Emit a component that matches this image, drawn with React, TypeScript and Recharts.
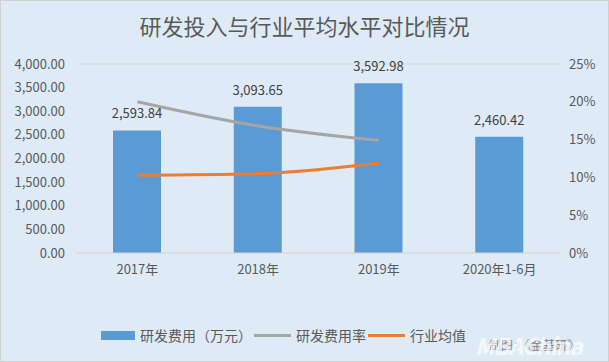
import {
  Bar,
  CartesianGrid,
  ComposedChart,
  LabelList,
  Line,
  XAxis,
  YAxis,
} from "recharts";

const categories = ["2017年", "2018年", "2019年", "2020年1-6月"];
const rdExpense = [2593.84, 3093.65, 3592.98, 2460.42]; // 万元
const rdRate = [20.0, 16.8, 14.9, null]; // %
const industryAvg = [10.3, 10.5, 11.9, null]; // %
const leftTicks = [0, 500, 1000, 1500, 2000, 2500, 3000, 3500, 4000];
const rightTicks = [0, 5, 10, 15, 20, 25];

const FONT = '"Noto Sans CJK SC", "Noto Sans", sans-serif';
const BLUE = "#5B9BD5";
const GRAY = "#A5A5A5";
const ORANGE = "#ED7D31";

const chartData = categories.map((name, i) => ({
  name,
  expense: rdExpense[i],
  rate: rdRate[i],
  avg: industryAvg[i],
}));

const fmtMoney = (v: number) =>
  v.toLocaleString("en-US", { minimumFractionDigits: 2, maximumFractionDigits: 2 });

const legendItems = [
  { label: "研发费用（万元）", color: BLUE, kind: "bar" },
  { label: "研发费用率", color: GRAY, kind: "line" },
  { label: "行业均值", color: ORANGE, kind: "line" },
];

const App = () => {
  return (
    <div
      style={{
        position: "absolute",
        left: 0,
        top: 0,
        width: 607,
        height: 360,
        background: "#DEEBF7",
        border: "1px solid #D0D0D0",
        fontFamily: FONT,
        overflow: "hidden",
      }}
    >
      <div
        style={{
          position: "absolute",
          top: 9,
          left: 0,
          width: 607,
          textAlign: "center",
          fontSize: 22,
          color: "#595959",
          lineHeight: "30px",
        }}
      >
        研发投入与行业平均水平对比情况
      </div>
      <ComposedChart
        width={607}
        height={360}
        data={chartData}
        margin={{ top: 63, right: 8, bottom: 78, left: 7 }}
        style={{ fontFamily: FONT }}
      >
        <CartesianGrid vertical={false} stroke="#D9D9D9" />
        <XAxis
          dataKey="name"
          axisLine={{ stroke: "#D9D9D9" }}
          tickLine={false}
          tickMargin={6}
          height={30}
          tick={{ fontSize: 13, fill: "#595959" }}
        />
        <YAxis
          yAxisId="left"
          domain={[0, 4000]}
          ticks={leftTicks}
          interval={0}
          tickFormatter={fmtMoney}
          axisLine={false}
          tickLine={false}
          tickMargin={6}
          width={69}
          tick={{ fontSize: 13, fill: "#595959" }}
        />
        <YAxis
          yAxisId="right"
          orientation="right"
          domain={[0, 25]}
          ticks={rightTicks}
          interval={0}
          tickFormatter={(v: number) => `${v}%`}
          axisLine={false}
          tickLine={false}
          tickMargin={3}
          width={40}
          tick={{ fontSize: 13, fill: "#595959", textAnchor: "start" }}
        />
        <Bar
          yAxisId="left"
          dataKey="expense"
          fill={BLUE}
          barSize={48}
          isAnimationActive={false}
        >
          <LabelList
            dataKey="expense"
            position="top"
            offset={12}
            formatter={(v: any) => fmtMoney(Number(v))}
            style={{ fontSize: 13, fill: "#404040", fontFamily: FONT }}
          />
        </Bar>
        <Line
          yAxisId="right"
          dataKey="rate"
          stroke={GRAY}
          strokeWidth={3}
          dot={false}
          type="monotone"
          isAnimationActive={false}
        />
        <Line
          yAxisId="right"
          dataKey="avg"
          stroke={ORANGE}
          strokeWidth={3}
          dot={false}
          type="monotone"
          isAnimationActive={false}
        />
      </ComposedChart>
      <div
        style={{
          position: "absolute",
          top: 324,
          left: 100,
          display: "flex",
          alignItems: "center",
          fontSize: 14,
          color: "#595959",
          lineHeight: "20px",
        }}
      >
        {legendItems.map((item) => (
          <div key={item.label} style={{ display: "flex", alignItems: "center" }}>
            <span
              style={{
                display: "inline-block",
                width: item.kind === "bar" ? 34 : 37,
                height: item.kind === "bar" ? 9 : 3,
                background: item.color,
                marginRight: 5,
              }}
            />
            <span style={{ marginRight: 2 }}>{item.label}</span>
          </div>
        ))}
      </div>
      <div
        style={{
          position: "absolute",
          top: 335,
          left: 488,
          fontSize: 12,
          color: "#808080",
        }}
      >
        制图：《金基研》
      </div>
      <div
        style={{
          position: "absolute",
          top: 330,
          left: 474,
          fontSize: 23,
          fontWeight: 700,
          fontStyle: "italic",
          color: "rgba(255,255,255,0.7)",
          letterSpacing: -1,
          lineHeight: "28px",
        }}
      >
        MBAChina
      </div>
    </div>
  );
};

export default App;
